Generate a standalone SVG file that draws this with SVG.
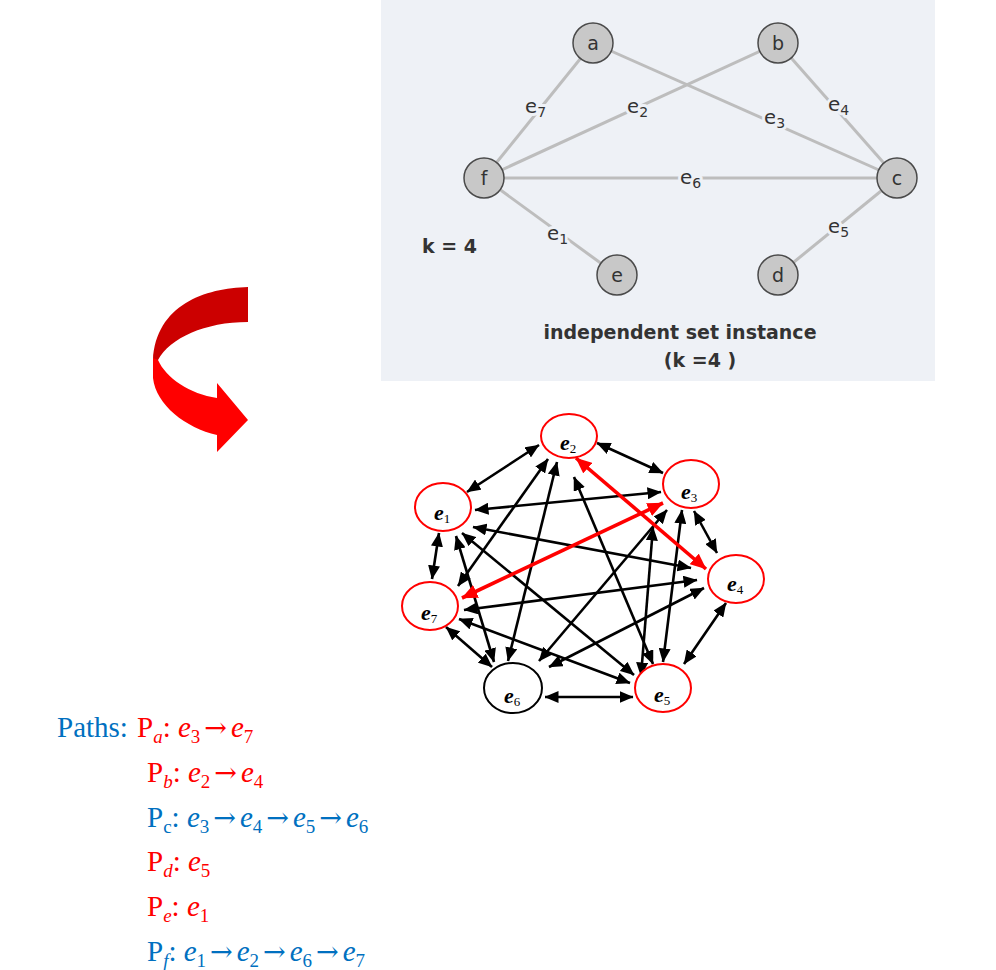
<svg xmlns="http://www.w3.org/2000/svg" width="996" height="970" viewBox="0 0 996 970">
<defs>
<style>
.tl{stroke:#bdbdbd;stroke-width:3;fill:none}
.tn{fill:#c8c8c8;stroke:#4a4a4a;stroke-width:1.5}
.tt{font-family:"DejaVu Sans",sans-serif;fill:#333;font-size:19px}
.tlab{font-family:"DejaVu Sans",sans-serif;fill:#333;font-size:20px;stroke:#eef1f6;stroke-width:6;paint-order:stroke;stroke-linejoin:round}
.blk{stroke:#000;stroke-width:2.6;marker-start:url(#ah);marker-end:url(#ah)}
.red{stroke:#ff0000;stroke-width:3.6;marker-start:url(#ahr);marker-end:url(#ahr)}
.nr{fill:#fff;stroke:#ff0000;stroke-width:2}
.nb{fill:#fff;stroke:#000;stroke-width:2}
.nl{font-family:"Liberation Serif",serif;font-size:22px;font-style:italic;font-weight:bold;fill:#000}
.sb{font-size:13px;font-style:normal;font-weight:normal}
.ps{font-family:"Liberation Serif",serif;font-size:29px}
.ar{font-family:"DejaVu Serif",serif;font-size:27px}
</style>
<marker id="ah" viewBox="0 0 14 12" refX="13.5" refY="6" markerWidth="14" markerHeight="12" markerUnits="userSpaceOnUse" orient="auto-start-reverse"><path d="M0,0 L14,6 L0,12 Z" fill="#000"/></marker>
<marker id="ahr" viewBox="0 0 16 14" refX="15.5" refY="7" markerWidth="16" markerHeight="14" markerUnits="userSpaceOnUse" orient="auto-start-reverse"><path d="M0,0 L16,7 L0,14 Z" fill="#ff0000"/></marker>
</defs>
<rect width="996" height="970" fill="#fff"/>

<!-- top panel -->
<g id="panel">
<rect x="381" y="0" width="554" height="381" fill="#eef1f6"/>
<g id="top-connectors">
<line class="tl" x1="593" y1="43" x2="484" y2="178"/>
<line class="tl" x1="593" y1="43" x2="897" y2="178"/>
<line class="tl" x1="778" y1="43" x2="484" y2="178"/>
<line class="tl" x1="778" y1="43" x2="897" y2="178"/>
<line class="tl" x1="484" y1="178" x2="897" y2="178"/>
<line class="tl" x1="484" y1="178" x2="617" y2="275"/>
<line class="tl" x1="897" y1="178" x2="778" y2="275"/>
<text class="tlab" x="525" y="113">e<tspan font-size="14" dy="4">7</tspan></text>
<text class="tlab" x="627" y="113">e<tspan font-size="14" dy="4">2</tspan></text>
<text class="tlab" x="764" y="124">e<tspan font-size="14" dy="4">3</tspan></text>
<text class="tlab" x="828" y="111">e<tspan font-size="14" dy="4">4</tspan></text>
<text class="tlab" x="680" y="184">e<tspan font-size="14" dy="4">6</tspan></text>
<text class="tlab" x="547" y="240">e<tspan font-size="14" dy="4">1</tspan></text>
<text class="tlab" x="828" y="233">e<tspan font-size="14" dy="4">5</tspan></text>
</g>
<g id="ta"><circle class="tn" cx="593" cy="43" r="20"/><text class="tt" x="593" y="50" text-anchor="middle">a</text></g>
<g id="tb"><circle class="tn" cx="778" cy="43" r="20"/><text class="tt" x="778" y="50" text-anchor="middle">b</text></g>
<g id="tf"><circle class="tn" cx="484" cy="178" r="20"/><text class="tt" x="484" y="185" text-anchor="middle">f</text></g>
<g id="tc"><circle class="tn" cx="897" cy="178" r="20"/><text class="tt" x="897" y="185" text-anchor="middle">c</text></g>
<g id="te"><circle class="tn" cx="617" cy="275" r="20"/><text class="tt" x="617" y="282" text-anchor="middle">e</text></g>
<g id="td"><circle class="tn" cx="778" cy="275" r="20"/><text class="tt" x="778" y="282" text-anchor="middle">d</text></g>
<text class="tt" x="422" y="253" font-size="20" font-weight="600">k = 4</text>
<text class="tt" x="680" y="339" text-anchor="middle" font-size="16" font-weight="bold" fill="#333">independent set instance</text>
<text class="tt" x="700" y="367" text-anchor="middle" font-size="16" font-weight="bold" fill="#333">(k =4 )</text>
</g>

<!-- curved arrow -->
<g id="curved-arrow">
<path d="M248,287 C205,288 156,305 153,360 L158,360 C170,338 205,322 248,322 Z" fill="#cc0000"/>
<path d="M153,358 L153,378 C156,405 186,428 217,435 L217,452 L248,420 L217,383 L217,398 C190,394 166,378 158,360 Z" fill="#ff0000"/>
</g>

<!-- lower graph connectors -->
<g id="connectors">
<line class="blk" x1="467" y1="492" x2="539" y2="445"/>
<line class="blk" x1="597" y1="443" x2="663" y2="473"/>
<line class="blk" x1="694" y1="511" x2="717" y2="553"/>
<line class="blk" x1="726" y1="603" x2="684" y2="664"/>
<line class="blk" x1="633" y1="697" x2="545" y2="697"/>
<line class="blk" x1="492" y1="667" x2="446" y2="627"/>
<line class="blk" x1="432" y1="579" x2="439" y2="533"/>
<line class="blk" x1="475" y1="510" x2="661" y2="492"/>
<line class="blk" x1="473" y1="527" x2="691" y2="568"/>
<line class="blk" x1="462" y1="533" x2="634" y2="675"/>
<line class="blk" x1="456" y1="536" x2="494" y2="662"/>
<line class="blk" x1="574" y1="477" x2="653" y2="664"/>
<line class="blk" x1="557" y1="462" x2="508" y2="661"/>
<line class="blk" x1="548" y1="459" x2="458" y2="586"/>
<line class="blk" x1="682" y1="510" x2="663" y2="662"/>
<line class="blk" x1="653" y1="527" x2="641" y2="676"/>
<line class="blk" x1="667" y1="510" x2="539" y2="661"/>
<line class="blk" x1="704" y1="588" x2="549" y2="667"/>
<line class="blk" x1="697" y1="580" x2="464" y2="610"/>
<line class="blk" x1="630" y1="683" x2="459" y2="619"/>
<line class="red" x1="576" y1="458" x2="706" y2="569"/>
<line class="red" x1="663" y1="503" x2="462" y2="598"/>
</g>

<!-- lower graph nodes -->
<g id="e1"><ellipse class="nr" cx="443" cy="507" rx="28" ry="24"/><text class="nl" x="434" y="520">e<tspan class="sb" dy="3">1</tspan></text></g>
<g id="e2"><ellipse class="nr" cx="569" cy="436" rx="28" ry="22"/><text class="nl" x="560" y="450">e<tspan class="sb" dy="3">2</tspan></text></g>
<g id="e3"><ellipse class="nr" cx="691" cy="484" rx="28" ry="24"/><text class="nl" x="681" y="499">e<tspan class="sb" dy="3">3</tspan></text></g>
<g id="e4"><ellipse class="nr" cx="736" cy="579" rx="28" ry="24"/><text class="nl" x="727" y="591">e<tspan class="sb" dy="3">4</tspan></text></g>
<g id="e5"><ellipse class="nr" cx="663" cy="688" rx="28" ry="24"/><text class="nl" x="654" y="702">e<tspan class="sb" dy="3">5</tspan></text></g>
<g id="e6"><ellipse class="nb" cx="513" cy="688" rx="29" ry="25"/><text class="nl" x="504" y="703">e<tspan class="sb" dy="3">6</tspan></text></g>
<g id="e7"><ellipse class="nr" cx="430" cy="606" rx="28" ry="24"/><text class="nl" x="421" y="620">e<tspan class="sb" dy="3">7</tspan></text></g>

<!-- paths text -->
<g id="paths-text">
<text class="ps" x="57" y="737" fill="#0070c0">Paths:</text>
<text class="ps" x="137" y="737" fill="#ff0000">P<tspan font-size="19" font-style="italic" dy="6">a</tspan><tspan dy="-6">: </tspan><tspan font-style="italic">e</tspan><tspan font-size="19" dy="6">3</tspan><tspan class="ar" dx="4" dy="-6">→</tspan><tspan font-style="italic" dx="4">e</tspan><tspan font-size="19" dy="6">7</tspan></text>
<text class="ps" x="147" y="782" fill="#ff0000">P<tspan font-size="19" font-style="italic" dy="6">b</tspan><tspan dy="-6">: </tspan><tspan font-style="italic">e</tspan><tspan font-size="19" dy="6">2</tspan><tspan class="ar" dx="4" dy="-6">→</tspan><tspan font-style="italic" dx="4">e</tspan><tspan font-size="19" dy="6">4</tspan></text>
<text class="ps" x="147" y="827" fill="#0070c0">P<tspan font-size="19" dy="6">c</tspan><tspan dy="-6">: </tspan><tspan font-style="italic">e</tspan><tspan font-size="19" dy="6">3</tspan><tspan class="ar" dx="4" dy="-6">→</tspan><tspan font-style="italic" dx="4">e</tspan><tspan font-size="19" dy="6">4</tspan><tspan class="ar" dx="4" dy="-6">→</tspan><tspan font-style="italic" dx="4">e</tspan><tspan font-size="19" dy="6">5</tspan><tspan class="ar" dx="4" dy="-6">→</tspan><tspan font-style="italic" dx="4">e</tspan><tspan font-size="19" dy="6">6</tspan></text>
<text class="ps" x="147" y="871" fill="#ff0000">P<tspan font-size="19" font-style="italic" dy="6">d</tspan><tspan dy="-6">: </tspan><tspan font-style="italic">e</tspan><tspan font-size="19" dy="6">5</tspan></text>
<text class="ps" x="147" y="916" fill="#ff0000">P<tspan font-size="19" font-style="italic" dy="6">e</tspan><tspan dy="-6">: </tspan><tspan font-style="italic">e</tspan><tspan font-size="19" dy="6">1</tspan></text>
<text class="ps" x="147" y="961" fill="#0070c0">P<tspan font-size="19" font-style="italic" dy="6">f</tspan><tspan dy="-6">: </tspan><tspan font-style="italic">e</tspan><tspan font-size="19" dy="6">1</tspan><tspan class="ar" dx="4" dy="-6">→</tspan><tspan font-style="italic" dx="4">e</tspan><tspan font-size="19" dy="6">2</tspan><tspan class="ar" dx="4" dy="-6">→</tspan><tspan font-style="italic" dx="4">e</tspan><tspan font-size="19" dy="6">6</tspan><tspan class="ar" dx="4" dy="-6">→</tspan><tspan font-style="italic" dx="4">e</tspan><tspan font-size="19" dy="6">7</tspan></text>
</g>
</svg>
